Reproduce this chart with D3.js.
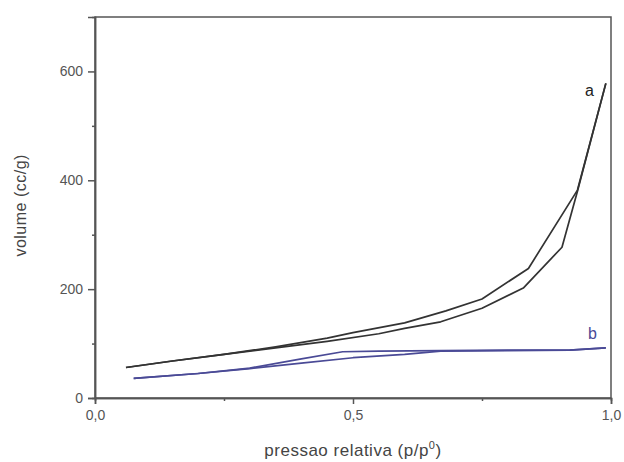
<!DOCTYPE html>
<html><head><meta charset="utf-8">
<script src="https://cdn.jsdelivr.net/npm/d3@7/dist/d3.min.js"></script>
<style>body{margin:0;background:#fff}svg{display:block}</style>
</head><body>
<script>
// Data
const aAdsX = [0.06, 0.15, 0.25, 0.35, 0.45, 0.55, 0.60, 0.67, 0.75, 0.83, 0.905, 0.935, 0.99];
const aAdsY = [56, 68, 80, 92, 104, 118, 128, 140, 165, 202, 277, 380, 578];
const aDesX = [0.99, 0.935, 0.84, 0.75, 0.68, 0.60, 0.50, 0.45, 0.35, 0.25, 0.15, 0.06];
const aDesY = [578, 382, 238, 182, 160, 138, 120, 110, 94, 80, 68, 56];
const bAdsX = [0.075, 0.20, 0.30, 0.40, 0.50, 0.60, 0.67, 0.80, 0.92, 0.99];
const bAdsY = [36, 45, 54, 64, 74, 80, 86, 87, 88, 92];
const bDesX = [0.99, 0.92, 0.80, 0.67, 0.55, 0.48, 0.40, 0.30, 0.20, 0.075];
const bDesY = [92, 88, 88, 87, 86, 85, 72, 55, 45, 36];
const xTicks = [0, 0.5, 1.0];
const xTickLabels = ["0,0", "0,5", "1,0"];
const xMinor = [0.25, 0.75];
const yTicks = [0, 200, 400, 600];
const yMinor = [100, 300, 500];
const seriesLabels = ["a", "b"];

const W = 624, H = 462;
const m = {l: 95, r: 13, t: 17, b: 64};
const svg = d3.select("body").append("svg").attr("width", W).attr("height", H);
const x = d3.scaleLinear().domain([0, 1.0]).range([m.l, W - m.r]);
const y = d3.scaleLinear().domain([0, 700]).range([H - m.b, m.t]);

const axisCol = "#555";
const font = "Liberation Sans, Arial, sans-serif";

// frame
svg.append("rect").attr("x", m.l).attr("y", m.t)
  .attr("width", W - m.r - m.l).attr("height", H - m.b - m.t)
  .attr("fill", "none").attr("stroke", axisCol).attr("stroke-width", 1.5);

const gx = svg.append("g").attr("transform", `translate(0,${H - m.b})`)
  .call(d3.axisBottom(x).tickValues(xTicks).tickFormat((d, i) => xTickLabels[i]).tickSize(6).tickPadding(6));
const gxm = svg.append("g").attr("transform", `translate(0,${H - m.b})`)
  .call(d3.axisBottom(x).tickValues(xMinor).tickFormat("").tickSize(3));
const gy = svg.append("g").attr("transform", `translate(${m.l},0)`)
  .call(d3.axisLeft(y).tickValues(yTicks).tickSize(7).tickPadding(5));
const gym = svg.append("g").attr("transform", `translate(${m.l},0)`)
  .call(d3.axisLeft(y).tickValues(yMinor).tickFormat("").tickSize(3));
[gx, gxm, gy, gym].forEach(g => {
  g.select(".domain").attr("stroke", axisCol).attr("stroke-width", 1.5);
  g.selectAll(".tick line").attr("stroke", axisCol).attr("stroke-width", 1.5);
  g.selectAll("text").attr("fill", "#555").style("font-family", font).style("font-size", "14px");
});

const line = d3.line().x(d => x(d[0])).y(d => y(d[1]));
function draw(xs, ys, col) {
  svg.append("path").datum(d3.zip(xs, ys)).attr("d", line)
    .attr("fill", "none").attr("stroke", col).attr("stroke-width", 1.7).attr("stroke-linejoin", "round");
}
const colA = "#333", colB = "#4a4a96";
draw(aAdsX, aAdsY, colA);
draw(aDesX, aDesY, colA);
draw(bAdsX, bAdsY, colB);
draw(bDesX, bDesY, colB);

svg.append("text").attr("x", 585).attr("y", y(555)).text(seriesLabels[0])
  .attr("fill", "#222").style("font-family", font).style("font-size", "16px");
svg.append("text").attr("x", 588).attr("y", y(108)).text(seriesLabels[1])
  .attr("fill", colB).style("font-family", font).style("font-size", "16px");

// axis titles
svg.append("text").attr("transform", `translate(22,${y(354)}) rotate(-90)`)
  .attr("text-anchor", "middle").attr("dominant-baseline", "middle").attr("fill", "#444")
  .style("font-family", font).style("font-size", "16px").style("letter-spacing", "0.5px").text("volume (cc/g)");
const xt = svg.append("text").attr("x", x(0.5)).attr("y", 456)
  .attr("text-anchor", "middle").attr("fill", "#444")
  .style("font-family", font).style("font-size", "17px").style("letter-spacing", "0.5px");
xt.append("tspan").text("pressao relativa (p/p");
xt.append("tspan").attr("dy", -7).style("font-size", "11px").text("0");
xt.append("tspan").attr("dy", 7).text(")");
</script>
</body></html>
